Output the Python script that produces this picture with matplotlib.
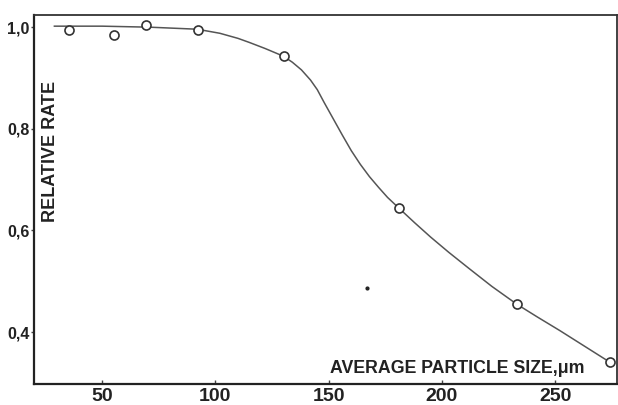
import matplotlib.pyplot as plt

# measured points (open circles)
size_um = [35.4, 55.3, 69.4, 92.4, 130.4, 181.1, 233.2, 274.3]
rel_rate = [0.994, 0.984, 1.004, 0.994, 0.943, 0.644, 0.455, 0.341]

# hand-drawn trend curve
curve_x = [29, 50, 71, 92, 102, 110, 115, 122, 130, 134, 138, 142, 145, 148,
           152, 156, 160, 164, 168, 172, 176, 181, 188, 195, 203, 212, 222,
           233, 242, 252, 263, 274]
curve_y = [1.002, 1.002, 1.000, 0.996, 0.988, 0.978, 0.970, 0.958, 0.943,
           0.931, 0.916, 0.896, 0.877, 0.852, 0.820, 0.788, 0.757, 0.730,
           0.706, 0.685, 0.665, 0.644, 0.615, 0.587, 0.557, 0.525, 0.490,
           0.455, 0.430, 0.403, 0.372, 0.341]

# stray speck on the scan
speck_x = [167.0]
speck_y = [0.487]

xticks = [50, 100, 150, 200, 250]
yticks = [0.4, 0.6, 0.8, 1.0]
ytick_labels = ['0,4', '0,6', '0,8', '1,0']

fig = plt.figure(figsize=(6.18, 4.05), dpi=100)
ax = fig.add_axes([0.055, 0.052, 0.944, 0.911])

ax.plot(curve_x, curve_y, color='#555555', lw=1.1, zorder=2)
ax.plot(size_um, rel_rate, 'o', ms=6.5, mfc='white', mec='#333333',
        mew=1.2, zorder=3)
ax.plot(speck_x, speck_y, 'o', ms=2, color='#222222')

ax.set_xlim(20, 277.4)
ax.set_ylim(0.298, 1.024)

ax.set_xticks(xticks)
ax.set_xticklabels([str(t) for t in xticks], fontfamily='Liberation Sans',
                   fontweight='bold', fontsize=14, color='#222222')
ax.set_yticks(yticks)
ax.set_yticklabels(ytick_labels, fontfamily='Liberation Sans',
                   fontweight='bold', fontsize=11.5, color='#222222')
ax.tick_params(axis='x', direction='in', length=3, width=1, pad=3,
               color='#444444')
ax.tick_params(axis='y', direction='out', length=2, width=1, pad=1,
               color='#444444')

for side in ['left', 'bottom']:
    ax.spines[side].set_linewidth(1.6)
    ax.spines[side].set_color('#222222')
for side in ['top', 'right']:
    ax.spines[side].set_linewidth(1.3)
    ax.spines[side].set_color('#333333')

ax.text(0.029, 0.63, 'RELATIVE RATE', transform=ax.transAxes, rotation=90,
        ha='center', va='center', fontfamily='Liberation Sans',
        fontweight='bold', fontsize=13, color='#222222')
ax.text(0.725, 0.041, 'AVERAGE PARTICLE SIZE,\u03bcm', transform=ax.transAxes,
        ha='center', va='center', fontfamily='Liberation Sans',
        fontweight='bold', fontsize=12.8, color='#222222')

fig.savefig('out.png', dpi=100)
